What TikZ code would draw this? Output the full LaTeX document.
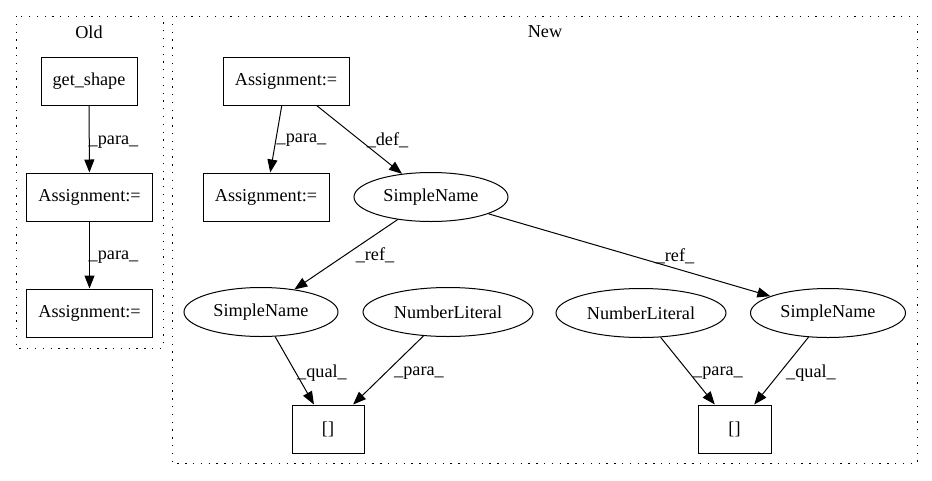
\documentclass[tikz,border=0pt]{standalone}
\usepackage{fontspec}
\setmainfont{Liberation Serif}
\usetikzlibrary{arrows.meta,shapes.geometric}
\begin{document}
\begin{tikzpicture}[x=1pt,y=-1pt,
  every node/.style={font=\fontsize{18.2}{20}\selectfont},
  box/.style={draw,line width=1pt,rectangle,minimum height=48pt,inner sep=0pt},
  ell/.style={draw,line width=1pt,ellipse,minimum height=49pt,inner sep=0pt},
  lbl/.style={inner sep=0pt},
  cluster/.style={draw,line width=1pt,dash pattern=on 1.3pt off 6.5pt},
  arr/.style={line width=1pt,-{Triangle[length=13pt,width=10pt]}}]
\useasboundingbox (0,0) rectangle (932,480);
\draw[cluster] (16,16) rectangle (163,348);
\draw[cluster] (172,16) rectangle (917,463);
\node[lbl] (oldlbl) at (89,32) {Old};
\node[lbl] (newlbl) at (545,32) {New};
% Old
\node[box,minimum width=96pt] (gs) at (89,81) {get\_shape};
\node[box,minimum width=126pt] (oa1) at (89.5,197) {Assignment:=};
\node[box,minimum width=126pt] (oa2) at (89.5,313) {Assignment:=};
% New
\node[box,minimum width=126pt] (na1) at (286,81) {Assignment:=};
\node[box,minimum width=126pt] (na2) at (266,197) {Assignment:=};
\node[ell,minimum width=154pt] (sn0) at (431,197) {SimpleName};
\node[ell,minimum width=154pt] (sn1) at (261,312) {SimpleName};
\node[ell,minimum width=170pt] (nl1) at (448,312) {NumberLiteral};
\node[ell,minimum width=170pt] (nl2) at (641,313) {NumberLiteral};
\node[ell,minimum width=155pt] (sn2) at (828,313) {SimpleName};
\node[box,minimum width=72pt] (b1) at (328,429) {[]};
\node[box,minimum width=73pt] (b2) at (734.5,429) {[]};
% edges
\draw[arr] (gs) -- (oa1);
\draw[arr] (oa1) -- (oa2);
\draw[arr] (na1) -- (na2);
\draw[arr] (na1) -- (sn0);
\draw[arr] (sn0) -- (sn1);
\draw[arr] (sn0) -- (sn2);
\draw[arr] (sn1) -- (b1);
\draw[arr] (nl1) -- (b1);
\draw[arr] (nl2) -- (b2);
\draw[arr] (sn2) -- (b2);
% edge labels
\node[lbl] (l1) at (113.5,142) {\_para\_};
\node[lbl] (l2) at (113.5,257) {\_para\_};
\node[lbl] (l3) at (301.5,140) {\_para\_};
\node[lbl] (l4) at (387.5,140) {\_def\_};
\node[lbl] (l5) at (375,255) {\_ref\_};
\node[lbl] (l6) at (675,256) {\_ref\_};
\node[lbl] (l7) at (322,373) {\_qual\_};
\node[lbl] (l8) at (419,373) {\_para\_};
\node[lbl] (l9) at (718,373) {\_para\_};
\node[lbl] (l10) at (811,373) {\_qual\_};
\end{tikzpicture}
\end{document}
